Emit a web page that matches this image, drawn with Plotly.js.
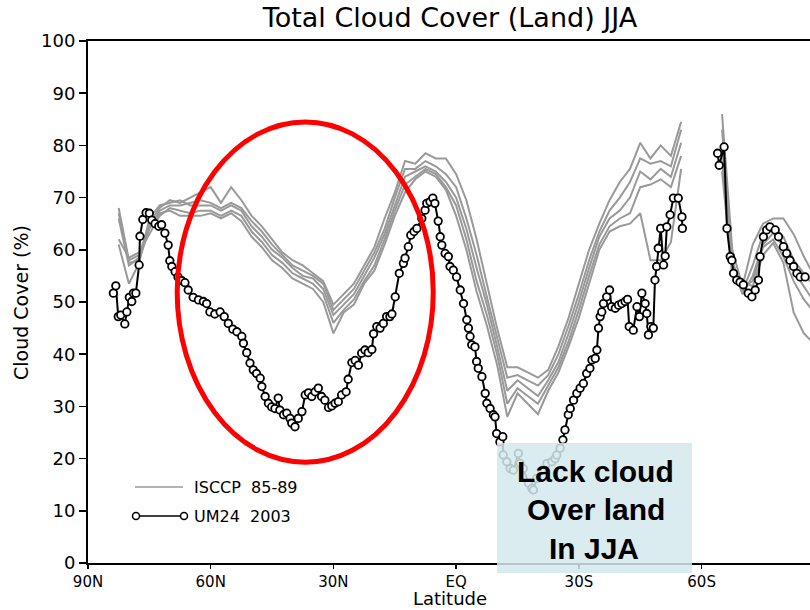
<!DOCTYPE html>
<html>
<head>
<meta charset="utf-8">
<script src="https://cdn.plot.ly/plotly-3.0.1.min.js"></script>
<style>html,body{margin:0;padding:0;background:#fff;}#chart{width:810px;height:610px;}</style>
</head>
<body>
<div id="chart"></div>
<script>
// ---- DATA ----
var xTickVals = [90, 60, 30, 0, -30, -60, -90];
var xTickText = ['90N', '60N', '30N', 'EQ', '30S', '60S', '90S'];
var yTickVals = [0, 10, 20, 30, 40, 50, 60, 70, 80, 90, 100];
var xTitle = 'Latitude';
var yTitle = 'Cloud Cover (%)';

var isccpLat = [
  82.5, 80, 77.5, 75, 72.5, 70, 67.5, 65, 62.5, 60,
  57.5, 55, 52.5, 50, 47.5, 45, 42.5, 40, 37.5, 35,
  32.5, 30, 27.5, 25, 22.5, 20, 17.5, 15, 12.5, 10,
  7.5, 5, 2.5, 0, -2.5, -5, -7.5, -10, -12.5, -15,
  -17.5, -20, -22.5, -25, -27.5, -30, -32.5, -35, -37.5, -40,
  -42.5, -45, -47.5, -50, -52.5, -55, -60,
  -65, -67.5, -70, -72.5, -75, -77.5, -80, -82.5, -85, -87.5
];
var isccp1 = [
  68, 58, 59, 65, 68, 69.5, 69, 70, 71, 72,
  69, 72, 69.5, 66.5, 64.5, 62, 59.5, 58, 57, 55.5,
  54, 49.5, 51.5, 53.5, 57, 60.5, 66, 71, 77, 76.5,
  78.5, 77.5, 77.5, 74.5, 69.5, 62, 53.5, 45, 37.5, 37.5,
  36.5, 35.5, 37, 41.5, 47, 53.5, 60, 65, 69.5, 73,
  75.5, 80.5, 77.5, 80, 78, 84.5, null,
  86, 60, 53, 61, 65, 66, 66, 63, 58.7, 55
];
var isccp2 = [
  67, 57.5, 58, 64, 67.5, 68.5, 68.5, 69, 69.5, 69,
  68, 69, 68, 65.5, 63.5, 61, 59, 57, 56, 55,
  53.5, 48.5, 50.5, 52.5, 56, 59.5, 64, 70, 75.5, 75.5,
  77, 76, 74.5, 72, 66, 59, 51, 43, 35.5, 36,
  35, 34, 36, 40, 45.5, 51.5, 58, 63.5, 67.5, 70,
  73, 77.5, 76.5, 77, 76, 83, null,
  83, 58, 52, 57, 63, 63.8, 62.5, 58, 55.5, 53
];
var isccp3 = [
  61, 53.5, 57.5, 66, 68.5, 69, 69.5, 68.5, 68.5, 68.5,
  67.5, 68.5, 67.5, 64.5, 62.5, 60, 58.5, 56.5, 55, 54.5,
  52.5, 47.5, 49.5, 51.5, 55, 58.5, 63, 68.5, 74, 75,
  76, 75, 73, 70, 64, 56.5, 49.5, 41.5, 33, 35,
  33.5, 32, 35, 38.5, 44, 50, 56.5, 62.5, 66, 67.5,
  70, 75, 73.5, 75.5, 74, 80.5, null,
  80, 57, 51.5, 55, 61, 63.2, 60.6, 56, 53, 50
];
var isccp4 = [
  62, 58.5, 59.5, 63, 66.5, 68, 67.5, 67, 67.5, 67.5,
  66.5, 67.5, 66.5, 63.5, 61.5, 59, 57.5, 55.5, 54.5, 53.5,
  51.5, 46, 48.5, 50.5, 54, 57, 62, 67.5, 72.5, 74,
  75.5, 74.5, 72, 68.5, 62, 54, 47.5, 40, 30.5, 33.5,
  32, 30.5, 34, 37.5, 42.5, 48.5, 55, 61, 64.5, 66,
  67, 72, 72.5, 73.5, 72, 78, null,
  77, 56, 53, 54, 60.5, 62, 58.7, 54, 50.5, 48
];
var isccp5 = [
  66, 57, 58.5, 64.5, 67, 67.5, 66.5, 66.5, 66.5, 67,
  66, 67, 65.5, 62.5, 60.5, 58, 56.5, 54.5, 53.5, 52.5,
  50, 44, 48, 49.5, 53.5, 56, 61, 66.5, 71, 73.5,
  75, 74, 71.5, 66.5, 60, 52, 45.5, 38, 28, 32.5,
  30.5, 28.5, 33, 36.5, 41.5, 47, 53.5, 60, 63.5, 64.5,
  65, 67, 58, 58, 61.5, 75.5, null,
  75, 55, 54, 53, 59, 61.3, 57.5, 48, 44, 42
];

var umLat = [
  83.8, 83.2, 82.6, 82.0, 81.0, 80.5, 79.9, 79.3, 78.9, 78.3,
  77.5, 77.3, 76.6, 75.8, 75.0, 74.4, 73.6, 72.7, 72.0, 71.2,
  70.4, 70.0, 69.5, 68.7, 68.0, 67.1, 66.3, 65.5, 64.3, 63.0,
  61.8, 61.0, 60.2, 59.0, 57.7, 56.7, 55.7, 54.6, 53.6, 52.4,
  52.0, 51.2, 50.4, 49.6, 48.8, 47.9, 47.5, 46.7, 45.9, 45.1,
  44.3, 43.5, 43.1, 42.2, 41.4, 40.6, 40.2, 39.4, 38.6, 37.7,
  36.9, 36.1, 35.3, 34.5, 33.7, 32.9, 32.1, 31.2, 30.4, 29.6,
  28.8, 28.0, 26.9, 26.4, 25.5, 24.7, 23.9, 23.1, 22.3, 21.5,
  20.6, 20.2, 19.4, 18.6, 17.8, 17.0, 16.2, 15.7, 14.9, 13.9,
  12.9, 12.5, 11.7, 11.1, 10.3, 9.6, 8.4, 7.6, 7.2, 6.4,
  5.7, 5.2, 4.4, 3.9, 3.5, 2.7, 1.9, 1.5, 0.7, -0.1,
  -1.0, -1.8, -2.6, -3.0, -3.4, -3.8, -4.6, -5.0, -5.4, -6.3,
  -7.1, -7.5, -8.3, -9.1, -9.5, -9.9, -10.7, -11.4, -11.5, -12.4,
  -13.2, -14.0, -15.2, -15.6, -16.4, -17.7, -18.5, -18.9, -19.7, -20.9,
  -22.2, -23.4, -24.2, -24.6, -25.4, -26.1, -26.6, -27.4, -27.9, -28.7,
  -29.5, -30.3, -31.1, -31.9, -32.7, -33.2, -34.0, -34.4, -34.8, -35.2,
  -35.6, -36.0, -36.8, -37.5, -38.0, -38.9, -39.7, -40.5, -41.3, -41.9,
  -42.3, -43.3, -44.2, -44.8, -45.4, -46.2, -46.6, -47.0, -47.6, -48.2,
  -48.6, -49.0, -49.4, -50.0, -50.7, -51.1, -51.5, -52.3, -53.1, -54.3,
  -55.2, -55.3, -60.0, -63.9, -64.3, -65.5, -66.2, -67.0, -67.4, -67.8,
  -68.6, -69.4, -70.2, -71.4, -72.3, -73.1, -73.9, -74.3, -75.1, -75.9,
  -76.7, -78.0, -78.8, -80.0, -80.8, -81.6, -82.5, -83.3, -84.1, -85.3
];
var umCloud = [
  51.7, 53.1, 47.2, 47.5, 45.8, 48.1, 50.9, 50.1, 51.7, 51.7,
  57.1, 62.6, 65.8, 67.1, 67.0, 65.7, 65.0, 64.5, 64.8, 63.2,
  60.9, 57.9, 56.8, 55.8, 54.8, 54.1, 53.7, 52.3, 50.9, 50.4,
  50.1, 49.7, 48.1, 47.7, 48.1, 47.2, 45.9, 44.8, 44.3, 43.4,
  42.1, 40.3, 38.3, 37.0, 36.3, 35.4, 33.8, 31.9, 30.6, 29.9,
  29.6, 31.6, 29.3, 28.4, 28.7, 27.7, 26.8, 26.1, 27.7, 29.0,
  32.2, 32.6, 31.9, 32.8, 33.5, 31.9, 31.2, 29.8, 30.1, 30.6,
  30.9, 32.2, 32.8, 35.2, 38.4, 38.8, 37.9, 40.2, 40.8, 40.3,
  40.9, 43.9, 45.3, 45.0, 45.9, 47.2, 47.2, 47.7, 51.0, 55.5,
  57.4, 58.4, 60.6, 62.8, 63.5, 64.1, 66.0, 67.6, 68.9, 69.2,
  69.9, 68.9, 65.5, 62.5, 60.9, 59.3, 58.7, 56.8, 56.1, 54.8,
  52.3, 49.7, 46.6, 45.0, 43.4, 41.8, 41.4, 38.6, 37.3, 35.7,
  32.5, 30.6, 29.6, 28.4, 28.0, 24.8, 23.2, 24.2, 20.7, 19.4,
  18.1, 17.8, 21.0, 19.1, 18.1, 15.3, 14.3, 14.0, 16.2, 17.8,
  19.1, 19.4, 20.0, 20.7, 22.0, 23.6, 25.5, 28.4, 29.6, 31.2,
  32.5, 33.5, 34.4, 36.3, 37.3, 38.9, 39.2, 40.8, 45.0, 47.2,
  48.1, 49.7, 51.0, 52.3, 49.1, 48.8, 49.4, 49.7, 50.1, 50.5,
  45.3, 44.6, 49.1, 47.2, 51.7, 49.7, 47.8, 43.7, 45.3, 45.0,
  54.2, 56.8, 60.3, 64.1, 57.1, 58.8, 64.4, 66.7, 69.9, 69.9,
  66.3, 64.1, null, 78.5, 76.2, 79.7, 64.1, 58.7, 58.0, 55.5,
  54.2, 53.8, 53.3, 51.7, 51.0, 52.3, 54.2, 58.7, 62.5, 63.8,
  64.4, 63.8, 62.5, 60.6, 59.3, 58.0, 56.8, 55.5, 54.8, 54.8
];

var legendLabels = ['ISCCP\u00a0\u00a085-89', 'UM24\u00a0\u00a02003'];
var noteLines = ['Lack cloud', 'Over land', 'In JJA'];

// ---- CHART ----
var grayStyle = {color: '#999999', width: 2};
var isccpSeries = [isccp1, isccp2, isccp3, isccp4, isccp5];
var traces = isccpSeries.map(function (s) {
  return {x: isccpLat, y: s, type: 'scatter', mode: 'lines', line: grayStyle,
          connectgaps: false, hoverinfo: 'skip'};
});
traces.push({
  x: umLat, y: umCloud, type: 'scatter', mode: 'lines+markers', connectgaps: false,
  line: {color: '#000', width: 2},
  marker: {symbol: 'circle', size: 7.5, color: '#fff', line: {color: '#000', width: 1.8}}
});

var F = 'DejaVu Sans, Verdana, sans-serif';
// pixel helpers (plot area: left 88, right 810, top 41, bottom 563)
function px(x) { return (x - 88) / 722; }
function py(y) { return (563 - y) / 522; }

var shapes = [
  {type: 'circle', xref: 'x', yref: 'y', x0: 68.2, x1: 5.6, y0: 19.3, y1: 84.5,
   line: {color: '#ff0000', width: 5}, layer: 'above'},
  {type: 'rect', xref: 'paper', yref: 'paper', x0: px(497), x1: px(692), y0: py(573), y1: py(443),
   fillcolor: 'rgb(212,233,237)', opacity: 0.85, line: {width: 0}, layer: 'above'},
  // legend samples
  {type: 'line', xref: 'paper', yref: 'paper', x0: px(135), x1: px(183), y0: py(487), y1: py(487),
   line: {color: '#999999', width: 1.6}},
  {type: 'line', xref: 'paper', yref: 'paper', x0: px(136), x1: px(184), y0: py(516), y1: py(516),
   line: {color: '#000', width: 1.6}},
  {type: 'circle', xref: 'paper', yref: 'paper', xsizemode: 'pixel', ysizemode: 'pixel',
   xanchor: px(136), yanchor: py(516), x0: -3.5, x1: 3.5, y0: -3.5, y1: 3.5,
   fillcolor: '#fff', line: {color: '#000', width: 1.5}},
  {type: 'circle', xref: 'paper', yref: 'paper', xsizemode: 'pixel', ysizemode: 'pixel',
   xanchor: px(184), yanchor: py(516), x0: -3.5, x1: 3.5, y0: -3.5, y1: 3.5,
   fillcolor: '#fff', line: {color: '#000', width: 1.5}}
];

var noteFont = {family: 'Comic Sans MS, Liberation Sans, Arial, sans-serif', size: 30, color: '#000', weight: 'bold'};
var annotations = [
  {xref: 'paper', yref: 'paper', x: px(192), y: py(487), xanchor: 'left', yanchor: 'middle',
   text: legendLabels[0], showarrow: false, font: {family: F, size: 16, color: '#000'}},
  {xref: 'paper', yref: 'paper', x: px(192), y: py(516), xanchor: 'left', yanchor: 'middle',
   text: legendLabels[1], showarrow: false, font: {family: F, size: 16, color: '#000'}},
  {xref: 'paper', yref: 'paper', x: px(595), y: py(471), xanchor: 'center', yanchor: 'middle',
   text: '<b>' + noteLines[0] + '</b>', showarrow: false, font: noteFont},
  {xref: 'paper', yref: 'paper', x: px(596), y: py(509), xanchor: 'center', yanchor: 'middle',
   text: '<b>' + noteLines[1] + '</b>', showarrow: false, font: noteFont},
  {xref: 'paper', yref: 'paper', x: px(594), y: py(548), xanchor: 'center', yanchor: 'middle',
   text: '<b>' + noteLines[2] + '</b>', showarrow: false, font: noteFont},
  // axis titles
  {xref: 'paper', yref: 'paper', x: px(450), y: py(610), xanchor: 'center', yanchor: 'bottom',
   borderpad: 0, text: xTitle, showarrow: false, font: {family: F, size: 18, color: '#000'}},
  {xref: 'paper', yref: 'paper', x: px(21), y: py(303), xanchor: 'center', yanchor: 'middle',
   textangle: -90, text: yTitle, showarrow: false, font: {family: F, size: 19, color: '#000'}}
];

var layout = {
  width: 810, height: 610,
  margin: {l: 88, r: 0, t: 41, b: 47, pad: 0},
  paper_bgcolor: '#fff', plot_bgcolor: '#fff',
  showlegend: false,
  title: {text: 'Total Cloud Cover (Land) JJA', font: {family: F, size: 27, color: '#000'},
          xref: 'paper', x: px(450), xanchor: 'center', yref: 'container', y: 1 - 18 / 610, yanchor: 'middle'},
  xaxis: {
    range: [90, -86.5], tickvals: xTickVals, ticktext: xTickText,
    ticks: 'outside', ticklen: 4, tickwidth: 1.5, tickcolor: '#000',
    showline: true, linecolor: '#000', linewidth: 2, mirror: true,
    showgrid: false, zeroline: false, automargin: false,
    tickfont: {family: F, size: 15, color: '#000'}
  },
  yaxis: {
    range: [0, 100], tickvals: yTickVals,
    ticks: 'outside', ticklen: 7, tickwidth: 1.5, tickcolor: '#000',
    showline: true, linecolor: '#000', linewidth: 2,
    showgrid: false, zeroline: false, automargin: false,
    tickfont: {family: F, size: 18, color: '#000'}
  },
  shapes: shapes,
  annotations: annotations
};

Plotly.newPlot('chart', traces, layout, {displayModeBar: false, staticPlot: true});
</script>
</body>
</html>
